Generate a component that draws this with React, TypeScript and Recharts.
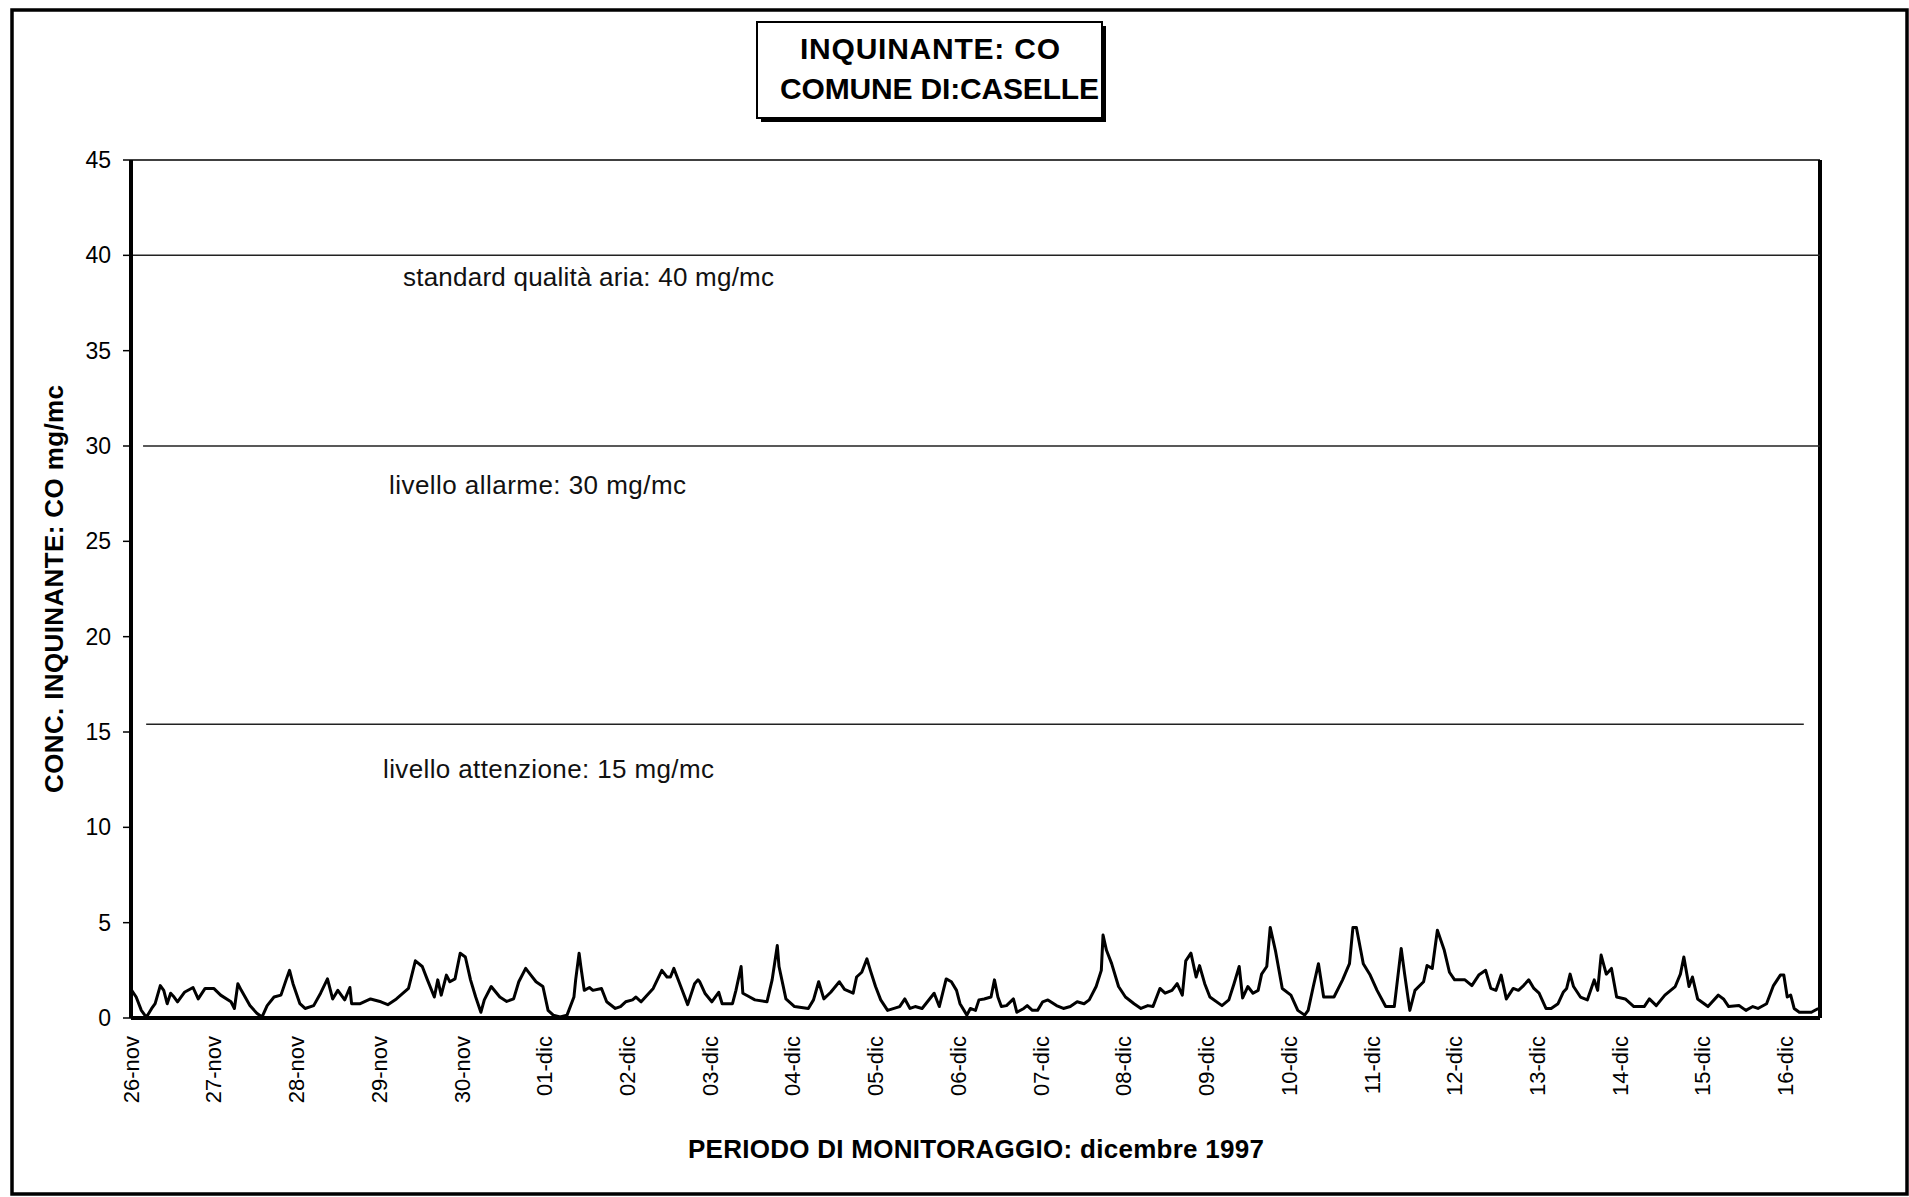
import React from 'react';
import { LineChart, Line, XAxis, YAxis, ReferenceLine } from 'recharts';

const FONT = '"Liberation Sans", Arial, Helvetica, sans-serif';

const dayLabels = [
  '26-nov', '27-nov', '28-nov', '29-nov', '30-nov', '01-dic', '02-dic',
  '03-dic', '04-dic', '05-dic', '06-dic', '07-dic', '08-dic', '09-dic',
  '10-dic', '11-dic', '12-dic', '13-dic', '14-dic', '15-dic', '16-dic',
];

const yTicks = [0, 5, 10, 15, 20, 25, 30, 35, 40, 45];

// hours since 26-nov 00:00
const sampleHours = [
  0, 1.5, 3, 4, 4.5, 6, 7, 8.5, 9.5, 10.5, 11.5, 12.5, 13.5, 15.5, 18, 19.5, 21.5,
  24, 26, 29, 30, 31, 32, 34.5, 36.5, 38, 39.5, 41.5, 43.5, 45, 46, 47,
  49, 50.5, 53, 55, 57, 58.5, 60, 62, 63.5, 64, 66.5, 69.5,
  72.5, 74.5, 77, 80.5, 82.5, 84.5, 86, 88, 89, 90, 91.5, 92.5, 94, 95.5,
  97, 98.5, 100, 101.5, 102.5, 104.5, 107, 109, 111, 112.5, 114.5, 116, 117.5, 119.5,
  121, 122.5, 124.5, 126.5, 128.5, 129, 130, 130.5, 131.5, 133, 134, 136.5, 138, 140.5, 142, 143.5,
  145.5, 146.5, 148, 151.5, 154, 155.5, 156.5, 157.5, 159.5, 161.5, 163.5, 164.5, 165, 166.5,
  168.5, 170.5, 171.5, 174.5, 175.5, 177, 177.5, 179.5, 181, 184.5, 186, 187.5, 188, 190,
  192.5, 196.5, 198, 199.5, 201, 203, 205.5, 207, 209.5, 210.5, 212, 213.5, 214.5,
  216, 217.5, 219.5, 223, 224.5, 226, 227.5, 229.5, 233, 234.5, 236.5, 238, 239.5,
  240.5, 242.5, 243.5, 245, 246, 247.5, 249.5, 250.5, 251.5, 252.5, 254, 256, 257, 259, 260, 261.5, 263,
  264.5, 266, 268.5, 270.5, 272.5, 274.5, 276.5, 278, 280, 281.5, 282, 283, 284.5, 286.5,
  288.5, 291, 293, 295, 296.5, 298.5, 300, 302, 303.5, 305, 306, 307.5, 309, 310, 311.5,
  313, 316.5, 318.5, 320, 321.5, 322.5, 324, 325.5, 327, 328, 329.5, 330.5, 332, 334,
  336.5, 338.5, 340.5, 341.5, 343, 344.5, 346, 349, 351.5, 353.5, 354.5, 355.5, 357.5,
  359.5, 361.5, 364, 366.5, 368.5, 369.5, 371, 372.5, 375, 376, 377.5, 379, 381, 382.5,
  384, 387, 389, 391, 393, 394.5, 396, 397.5, 399, 401, 402.5, 404, 405.5, 407,
  408.5, 410.5, 412, 414, 415.5, 416.5, 417.5, 418.5, 420.5, 422.5, 424.5, 425.5, 426.5, 428, 429.5,
  431, 433.5, 436, 439, 440.5, 442.5, 445, 448, 449.5, 450.5, 452, 453, 454.5,
  457.5, 460.5, 462, 463.5, 466.5, 468.5, 470.5, 472, 474.5, 476.5, 478.5, 479.5,
  480.5, 481.5, 482.5, 484, 487.5, 489.5,
];

// CO, mg/mc
const coValues = [
  1.5, 1.1, 0.4, 0.15, 0.05, 0.5, 0.75, 1.7, 1.45, 0.75, 1.3, 1.1, 0.85, 1.35, 1.6, 1.0, 1.55,
  1.55, 1.2, 0.85, 0.5, 1.8, 1.45, 0.65, 0.25, 0.05, 0.65, 1.1, 1.2, 2.0, 2.5, 1.8,
  0.75, 0.5, 0.65, 1.3, 2.05, 1.0, 1.45, 0.95, 1.6, 0.75, 0.75, 1.0,
  0.85, 0.7, 1.0, 1.55, 3.0, 2.7, 2.0, 1.1, 2.0, 1.2, 2.25, 1.9, 2.05, 3.4,
  3.2, 2.0, 1.1, 0.3, 0.95, 1.65, 1.1, 0.87, 1.0, 1.9, 2.6, 2.25, 1.9, 1.65,
  0.4, 0.15, 0.05, 0.15, 1.1, 2.0, 3.4, 2.7, 1.45, 1.6, 1.45, 1.55, 0.85, 0.5, 0.6, 0.85,
  0.95, 1.1, 0.85, 1.55, 2.5, 2.15, 2.15, 2.6, 1.65, 0.7, 1.8, 2.0, 1.9, 1.3,
  0.85, 1.35, 0.75, 0.75, 1.45, 2.7, 1.3, 1.1, 0.95, 0.85, 2.0, 3.8, 2.7, 1.0,
  0.6, 0.5, 0.95, 1.9, 1.0, 1.35, 1.9, 1.5, 1.3, 2.15, 2.4, 3.1, 2.5,
  1.65, 0.95, 0.4, 0.6, 1.0, 0.5, 0.6, 0.5, 1.3, 0.6, 2.05, 1.9, 1.45,
  0.75, 0.15, 0.5, 0.4, 0.95, 1.0, 1.1, 2.0, 1.1, 0.6, 0.65, 1.0, 0.3, 0.5, 0.65, 0.4, 0.4,
  0.85, 0.95, 0.65, 0.5, 0.6, 0.85, 0.75, 0.95, 1.65, 2.5, 4.35, 3.55, 2.85, 1.65,
  1.1, 0.75, 0.5, 0.65, 0.6, 1.55, 1.3, 1.45, 1.8, 1.2, 3.0, 3.4, 2.15, 2.75, 1.8,
  1.1, 0.65, 0.95, 1.8, 2.7, 1.05, 1.65, 1.3, 1.45, 2.3, 2.7, 4.75, 3.55, 1.55,
  1.2, 0.4, 0.15, 0.4, 1.65, 2.85, 1.1, 1.1, 2.0, 2.85, 4.75, 4.75, 2.85,
  2.25, 1.45, 0.6, 0.6, 3.65, 2.3, 0.4, 1.45, 1.9, 2.75, 2.6, 4.6, 3.55, 2.4,
  2.0, 2.0, 1.7, 2.25, 2.5, 1.55, 1.45, 2.25, 1.0, 1.55, 1.45, 1.7, 2.0, 1.55,
  1.3, 0.5, 0.5, 0.75, 1.35, 1.55, 2.3, 1.65, 1.1, 0.95, 2.0, 1.45, 3.3, 2.3, 2.6,
  1.1, 1.0, 0.6, 0.6, 1.0, 0.65, 1.2, 1.65, 2.3, 3.2, 1.65, 2.15, 1.0,
  0.6, 1.2, 1.0, 0.6, 0.65, 0.4, 0.6, 0.5, 0.75, 1.7, 2.25, 2.25,
  1.1, 1.2, 0.5, 0.3, 0.3, 0.5,
];

const data = sampleHours.map((h, i) => ({ hour: h, co: coValues[i] }));
const dayTicks = dayLabels.map((_, i) => i * 24);

const DayTick = ({ x, y, payload }: any) => (
  <text
    x={x} y={y} dy="0.35em"
    transform={`rotate(-90, ${x}, ${y})`}
    textAnchor="end" fontSize={22} fontFamily={FONT} fill="#000"
  >
    {dayLabels[Math.round(payload.value / 24)]}
  </text>
);

const limitLabel = (text: string, x: number, dy: number, len: number) => ({ viewBox }: any) => (
  <text x={x} y={viewBox.y + dy} fontSize={26} fontFamily={FONT} fill="#111" textLength={len}>
    {text}
  </text>
);

export default function App() {
  return (
    <div style={{ position: 'absolute', left: 0, top: 0, width: 1909, height: 1197, background: '#fff' }}>
      <LineChart
        width={1909} height={1197} data={data}
        margin={{ top: 160, right: 89, bottom: 0, left: 0 }}
      >
        <XAxis
          dataKey="hour" type="number" domain={[0, 490]} ticks={dayTicks} interval={0}
          tick={<DayTick />} tickLine={false} tickSize={0} tickMargin={18} height={179}
          axisLine={{ stroke: '#000', strokeWidth: 4 }}
        />
        <YAxis
          type="number" domain={[0, 45]} ticks={yTicks} interval={0} width={131}
          tick={{ fontSize: 23, fill: '#000', fontFamily: FONT }}
          tickSize={8} tickMargin={12}
          tickLine={{ stroke: '#000', strokeWidth: 1.5 }}
          axisLine={{ stroke: '#000', strokeWidth: 4 }}
        />
        <ReferenceLine y={45} stroke="#000" strokeWidth={1.5} />
        <ReferenceLine x={490} stroke="#000" strokeWidth={4} />
        <ReferenceLine
          y={40} stroke="#222" strokeWidth={1.5}
          label={limitLabel('standard qualità aria: 40 mg/mc', 403, 31, 371)}
        />
        <ReferenceLine
          segment={[{ x: 3.5, y: 30 }, { x: 490, y: 30 }]} stroke="#222" strokeWidth={1.5}
          label={limitLabel('livello allarme: 30 mg/mc', 389, 48, 297)}
        />
        <ReferenceLine
          segment={[{ x: 4.4, y: 15.4 }, { x: 485.3, y: 15.4 }]} stroke="#222" strokeWidth={1.5}
          label={limitLabel('livello attenzione: 15 mg/mc', 383, 54, 331)}
        />
        <Line
          type="linear" dataKey="co" stroke="#000" strokeWidth={3}
          dot={false} isAnimationActive={false} strokeLinejoin="round"
        />
      </LineChart>

      <svg
        width={1909} height={1197}
        style={{ position: 'absolute', left: 0, top: 0, pointerEvents: 'none' }}
        fontFamily={FONT}
      >
        <rect x={12} y={10} width={1895} height={1184} fill="none" stroke="#000" strokeWidth={3.5} />

        <rect x={761} y={26} width={345} height={96} fill="#000" />
        <rect x={757} y={22} width={345} height={96} fill="#fff" stroke="#000" strokeWidth={2} />
        <text x={800} y={59} fontSize={30} fontWeight="bold" textLength={260}>INQUINANTE: CO</text>
        <text x={780} y={99} fontSize={30} fontWeight="bold" textLength={319}>COMUNE DI:CASELLE</text>

        <text
          x={63} y={589} transform="rotate(-90, 63, 589)" textAnchor="middle"
          fontSize={26} fontWeight="bold" textLength={408}
        >
          CONC. INQUINANTE: CO mg/mc
        </text>
        <text x={976} y={1158} textAnchor="middle" fontSize={26} fontWeight="bold" textLength={576}>
          PERIODO DI MONITORAGGIO: dicembre 1997
        </text>
      </svg>
    </div>
  );
}
